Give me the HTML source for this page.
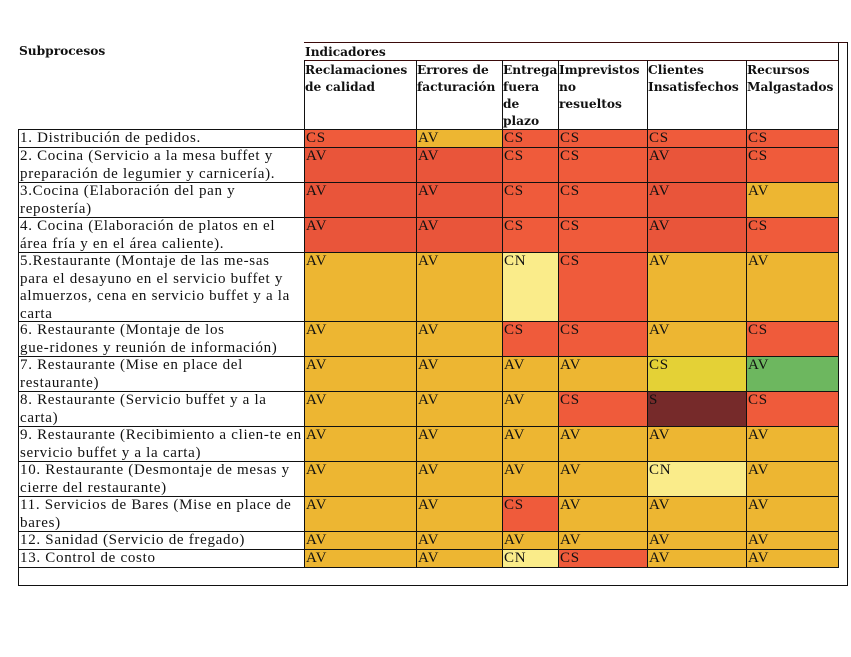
<!DOCTYPE html>
<html><head><meta charset="utf-8">
<style>
body{margin:0;width:851px;height:657px;background:#fff;position:relative;overflow:hidden;font-family:"Liberation Serif","DejaVu Serif",serif;}
.cell{position:absolute;box-sizing:border-box;font-size:15px;line-height:17px;padding:0 0 0 1px;color:#111;overflow:hidden;letter-spacing:0.7px;}
.lab{position:absolute;box-sizing:border-box;border-bottom:1px solid #111;font-size:15px;line-height:17.5px;padding:0 0 0 1px;color:#111;overflow:hidden;letter-spacing:0.7px;white-space:nowrap;}
.hd{position:absolute;font-weight:bold;font-family:"DejaVu Serif","Liberation Serif",serif;font-size:12.2px;line-height:17px;color:#111;white-space:nowrap;}
.ln{position:absolute;background:#111;}
</style></head>
<body>
<div class="hd" style="left:19px;top:43px;">Subprocesos</div>
<div class="hd" style="left:305px;top:44px;">Indicadores</div>
<div class="ln" style="left:304px;top:42px;width:544px;height:1px;background:#3a0a0a"></div>
<div class="ln" style="left:304px;top:60px;width:535px;height:1px;background:#3a0a0a"></div>
<div class="ln" style="left:847px;top:42px;width:1px;height:544px"></div>
<div class="ln" style="left:18px;top:129px;width:1px;height:457px"></div>
<div class="ln" style="left:18px;top:585px;width:830px;height:1px"></div>
<div class="ln" style="left:838px;top:42px;width:1px;height:526px"></div>
<div class="ln" style="left:304px;top:60px;width:1px;height:70px"></div>
<div id="t"></div>
<script>
const indicators=["Reclamaciones|de calidad","Errores de|facturación","Entrega|fuera|de|plazo","Imprevistos|no|resueltos","Clientes|Insatisfechos","Recursos|Malgastados"];
const processes=["1. Distribución de pedidos.","2. Cocina (Servicio a la mesa buffet y|preparación de legumier y carnicería).","3.Cocina (Elaboración del pan y|repostería)","4. Cocina (Elaboración de platos en el|área fría y en el área caliente).","5.Restaurante (Montaje de las me-sas|para el desayuno en el servicio buffet y|almuerzos, cena en servicio buffet y a la|carta","6. Restaurante (Montaje de los|gue-ridones y reunión de información)","7. Restaurante (Mise en place del|restaurante)","8. Restaurante (Servicio buffet y a la|carta)","9. Restaurante (Recibimiento a clien-te en|servicio buffet y a la carta)","10. Restaurante (Desmontaje de mesas y|cierre del restaurante)","11. Servicios de Bares (Mise en place de|bares)","12. Sanidad (Servicio de fregado)","13. Control de costo"];
const codes=[
["CS","AV","CS","CS","CS","CS"],
["AV","AV","CS","CS","AV","CS"],
["AV","AV","CS","CS","AV","AV"],
["AV","AV","CS","CS","AV","CS"],
["AV","AV","CN","CS","AV","AV"],
["AV","AV","CS","CS","AV","CS"],
["AV","AV","AV","AV","CS","AV"],
["AV","AV","AV","CS","S","CS"],
["AV","AV","AV","AV","AV","AV"],
["AV","AV","AV","AV","CN","AV"],
["AV","AV","CS","AV","AV","AV"],
["AV","AV","AV","AV","AV","AV"],
["AV","AV","CN","CS","AV","AV"]];
const fills=[
["r","o","r","r","r","r"],
["d","d","r","r","d","r"],
["d","d","r","r","d","o"],
["d","d","r","r","d","r"],
["o","o","n","r","o","o"],
["o","o","r","r","o","r"],
["o","o","o","o","y","g"],
["o","o","o","r","k","r"],
["o","o","o","o","o","o"],
["o","o","o","o","n","o"],
["o","o","r","o","o","o"],
["o","o","o","o","o","o"],
["o","o","n","r","o","o"]];
const rowLines=[1,2,2,2,4,2,2,2,2,2,2,1,1];
const palette={r:"#EF5B3B",d:"#E9553A",o:"#EDB632",n:"#FAEC8A",y:"#E4D136",g:"#6DB75F",k:"#762A2A"};
const colX=[304,416,502,558,647,746,838];
const t=document.getElementById('t');
function lines(el,s){s.split('|').forEach((p,i)=>{if(i)el.appendChild(document.createElement('br'));el.appendChild(document.createTextNode(p));});}
indicators.forEach((name,i)=>{
  const h=document.createElement('div');
  h.className='hd';
  
  
  h.style.left=(colX[i]+1)+'px';h.style.top='62px';
  lines(h,name);t.appendChild(h);
  const v=document.createElement('div');v.className='ln';
  
  
  v.style.left=colX[i+1]+'px';v.style.top='60px';v.style.width='1px';v.style.height='70px';t.appendChild(v);
});
const hl=document.createElement('div');hl.className='ln';


hl.style.left='18px';hl.style.top='129px';hl.style.width='821px';hl.style.height='1px';t.appendChild(hl);
let y=130;
processes.forEach((p,r)=>{
  const h=rowLines[r]===1?18:(rowLines[r]===2?35:69);
  const l=document.createElement('div');l.className='lab';
  
  
  l.style.left='19px';l.style.top=y+'px';l.style.width='285px';l.style.height=h+'px';
  lines(l,p);t.appendChild(l);
  codes[r].forEach((c,i)=>{
    const d=document.createElement('div');d.className='cell';
    
    
    d.style.left=colX[i]+'px';d.style.top=(y-1)+'px';d.style.width=(colX[i+1]-colX[i]+1)+'px';d.style.height=(h+1)+'px';
    d.style.border='1px solid #111';
    d.style.background=palette[fills[r][i]];d.textContent=c;t.appendChild(d);
  });
  y+=h;
});
</script>
</body></html>
